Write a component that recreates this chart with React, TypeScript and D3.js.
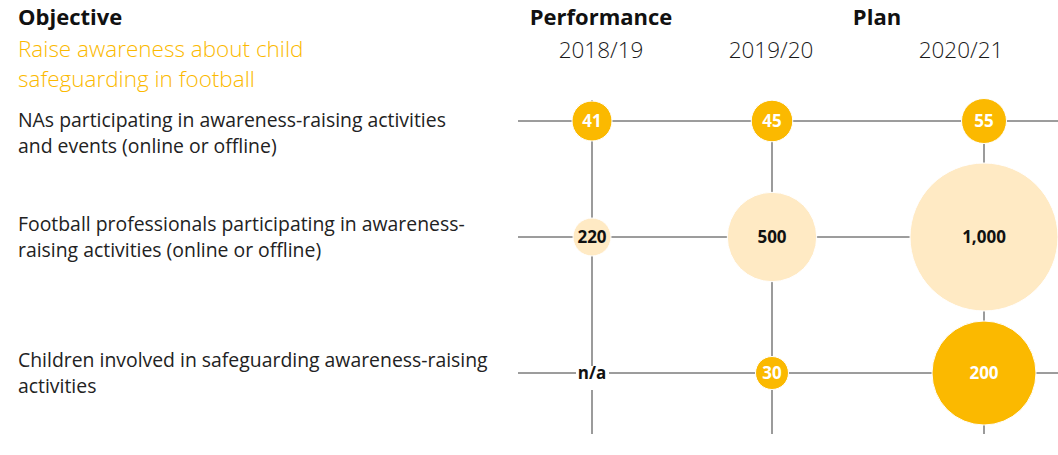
import { useRef, useEffect } from "react";
import { select, scaleOrdinal, scalePow, format } from "d3";

// chart data
const years = ["2018/19", "2019/20", "2020/21"];
const indicators = [
  ["NAs participating in awareness-raising activities", "and events (online or offline)"],
  ["Football professionals participating in awareness-", "raising activities (online or offline)"],
  ["Children involved in safeguarding awareness-raising", "activities"],
];
const nasValues = [41, 45, 55];
const professionalsValues = [220, 500, 1000];
const childrenValues = [null, 30, 200];
const objectiveTitle = ["Raise awareness about child", "safeguarding in football"];
const groupHeaders = ["Performance", "Plan"];

const FONT = "'Open Sans', 'Noto Sans', sans-serif";
const YELLOW = "#fbb900";
const PALE = "#ffeac4";

const App = () => {
  const svgRef = useRef(null);
  const width = 1058;
  const height = 455;

  useEffect(() => {
    const svg = select(svgRef.current);
    svg.selectAll("*").remove();

    const rows = [
      { label: indicators[0], values: nasValues, fill: YELLOW, text: "#fff", r: [20, 22.5], exp: 0.4 },
      { label: indicators[1], values: professionalsValues, fill: PALE, text: "#111", r: [19, 74], exp: 0.4 },
      { label: indicators[2], values: childrenValues, fill: YELLOW, text: "#fff", r: [16.5, 52], exp: 0.6 },
    ];

    // layout scales
    const xCol = scaleOrdinal().domain(years).range([592, 772, 984]);
    const xHead = scaleOrdinal().domain(years).range([601, 771, 961]);
    const yRow = scaleOrdinal().domain([0, 1, 2]).range([121, 237, 373]);
    const yLabel = scaleOrdinal().domain([0, 1, 2]).range([127, 231, 367]);
    const fmt = format(",");

    // grid lines
    const grid = svg.append("g");
    rows.forEach((row, i) => {
      grid
        .append("line")
        .attr("x1", 518)
        .attr("x2", width)
        .attr("y1", yRow(i))
        .attr("y2", yRow(i))
        .attr("stroke", "#3a3a3a")
        .attr("stroke-width", 1);
    });
    years.forEach((yr) => {
      grid
        .append("line")
        .attr("x1", xCol(yr))
        .attr("x2", xCol(yr))
        .attr("y1", 100)
        .attr("y2", 434)
        .attr("stroke", "#7a7a7a")
        .attr("stroke-width", 1.5);
    });

    // headers
    svg
      .append("text")
      .attr("x", 18)
      .attr("y", 25)
      .text("Objective")
      .style("font-family", FONT)
      .style("font-weight", 700)
      .style("font-size", "22px")
      .attr("fill", "#111");

    svg
      .selectAll("text.group")
      .data(groupHeaders)
      .join("text")
      .attr("class", "group")
      .attr("x", (d, i) => (i === 0 ? xHead(years[0]) : (xHead(years[1]) + xHead(years[2])) / 2 + 11))
      .attr("y", 25)
      .attr("text-anchor", "middle")
      .text((d) => d)
      .style("font-family", FONT)
      .style("font-weight", 700)
      .style("font-size", "22px")
      .attr("fill", "#111");

    svg
      .selectAll("text.year")
      .data(years)
      .join("text")
      .attr("class", "year")
      .attr("x", (d) => xHead(d))
      .attr("y", 58)
      .attr("text-anchor", "middle")
      .text((d) => d)
      .style("font-family", FONT)
      .style("font-weight", 300)
      .style("font-size", "22.5px")
      .attr("fill", "#1a1a1a");

    svg
      .selectAll("text.objective")
      .data(objectiveTitle)
      .join("text")
      .attr("class", "objective")
      .attr("x", 18)
      .attr("y", (d, i) => 57 + i * 30)
      .text((d) => d)
      .style("font-family", FONT)
      .style("font-weight", 300)
      .style("font-size", "22.5px")
      .attr("fill", YELLOW);

    // row labels
    rows.forEach((row, i) => {
      svg
        .append("g")
        .selectAll("text")
        .data(row.label)
        .join("text")
        .attr("x", 18)
        .attr("y", (d, j) => yLabel(i) + j * 26)
        .text((d) => d)
        .style("font-family", FONT)
        .style("font-weight", 400)
        .style("font-size", "19.4px")
        .attr("fill", "#222");
    });

    // bubbles
    rows.forEach((row, i) => {
      const vals = row.values.filter((v) => v != null);
      const rScale = scalePow()
        .exponent(row.exp)
        .domain([Math.min(...vals), Math.max(...vals)])
        .range(row.r);

      const cells = svg
        .append("g")
        .selectAll("g")
        .data(row.values.map((v, j) => ({ v, year: years[j] })))
        .join("g")
        .attr("transform", (d) => `translate(${xCol(d.year)},${yRow(i)})`);

      cells
        .filter((d) => d.v != null)
        .append("circle")
        .attr("r", (d) => rScale(d.v))
        .attr("fill", row.fill)
        .attr("stroke", "#fff")
        .attr("stroke-width", 1);

      cells
        .filter((d) => d.v == null)
        .append("rect")
        .attr("x", -16)
        .attr("y", -7)
        .attr("width", 33)
        .attr("height", 24)
        .attr("fill", "#fff");

      cells
        .append("text")
        .attr("text-anchor", "middle")
        .attr("y", 6)
        .text((d) => (d.v == null ? "n/a" : fmt(d.v)))
        .style("font-family", FONT)
        .style("font-weight", 700)
        .style("font-size", "17px")
        .attr("fill", (d) => (d.v == null ? "#111" : row.text));
    });
  }, []);

  return (
    <div style={{ position: "absolute", left: 0, top: 0 }}>
      <svg ref={svgRef} width={width} height={height} style={{ display: "block" }}></svg>
    </div>
  );
};

export default App;
